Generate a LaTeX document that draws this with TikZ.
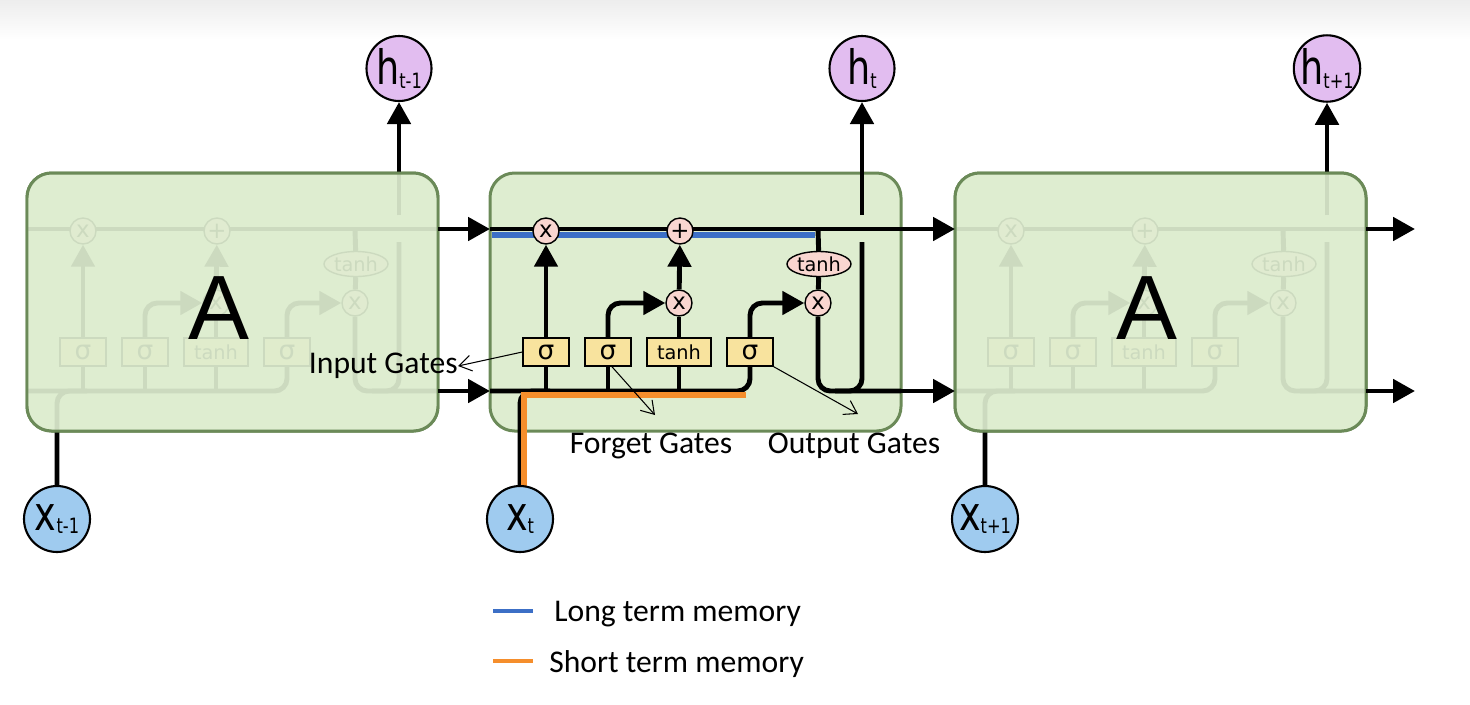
\documentclass[tikz,border=0pt]{standalone}
\usepackage{fontspec}
\usepackage{graphicx}
\setmainfont{Carlito}
\newfontfamily\dejavu{DejaVu Sans}
\newfontfamily\arialfont{Liberation Sans}
\usepackage{tikz}
\usetikzlibrary{arrows.meta,shapes.geometric}
\definecolor{cellgreen}{HTML}{DEEDD0}
\definecolor{cellborder}{HTML}{6B8A58}
\definecolor{oppink}{HTML}{F9D6D0}
\definecolor{gateyellow}{HTML}{F8E39E}
\definecolor{hpurple}{HTML}{E2BDF0}
\definecolor{xblue}{HTML}{9FCBEF}
\definecolor{longblue}{HTML}{3C6FC6}
\definecolor{shortorange}{HTML}{F58E2C}
\pgfdeclarelayer{bg}
\pgfdeclarelayer{lines}
\pgfdeclarelayer{fade}
\pgfdeclarelayer{top}
\pgfsetlayers{bg,lines,main,fade,top}
\newcommand\cirlab[2]{{\dejavu\scalebox{0.77}[1]{\fontsize{27}{27}\selectfont #1\raisebox{-2pt}{\fontsize{12}{12}\selectfont #2}}}}

\begin{document}
\begin{tikzpicture}[x=0.02cm, y=-0.02cm,
    cellbox/.style={draw=cellborder, line width=1.7pt, rounded corners=14pt},
    flow/.style={line width=2.8pt, black},
    arr/.style={-{Triangle[length=0.44cm,width=0.46cm]}},
    opnode/.style={circle, draw, line width=0.8pt, fill=oppink, minimum size=0.52cm, inner sep=0pt, font=\dejavu\fontsize{13}{13}\selectfont},
    tanhnode/.style={ellipse, draw, line width=0.8pt, fill=oppink, minimum width=1.28cm, minimum height=0.5cm, inner sep=0pt, font=\dejavu\fontsize{11}{11}\selectfont},
    gatebox/.style={draw, line width=0.8pt, fill=gateyellow, minimum width=0.92cm, minimum height=0.56cm, inner sep=0pt, font=\dejavu\fontsize{15}{15}\selectfont},
    hcirc/.style={circle, draw, line width=1.2pt, fill=hpurple, minimum size=1.3cm, inner sep=0pt},
    xcirc/.style={circle, draw, line width=1.2pt, fill=xblue, minimum size=1.32cm, inner sep=0pt},
    lbl/.style={font=\fontsize{18}{20}\selectfont, inner sep=0pt},
    pointer/.style={line width=0.6pt, -{Straight Barb[length=7pt,width=9pt]}}]
    \useasboundingbox (0,0) rectangle (1470,704);
    % faint strip at the top
    \shade[top color=black!7, bottom color=white] (0,0) rectangle (1470,40);

    % the three LSTM cells
    \foreach \cx/\nm/\sub in {27/L/t-1,490/M/t,955/R/t+1}{
      \begin{scope}[shift={(\cx,0)}]
        \begin{pgfonlayer}{bg}
          \filldraw[cellbox, fill=cellgreen] (0,173) rectangle (411,431);
        \end{pgfonlayer}
        % pointwise operations and gates
        \node[opnode] (\nm-fx) at (56,231) {x};
        \node[opnode] (\nm-pl) at (190,231) {+};
        \node[opnode] (\nm-ix) at (189,303) {x};
        \node[opnode] (\nm-ox) at (328,303) {x};
        \node[tanhnode] (\nm-th) at (329,264) {tanh};
        \node[gatebox] (\nm-fs) at (56,352) {σ};
        \node[gatebox] (\nm-is) at (118,352) {σ};
        \node[gatebox, minimum width=1.28cm, font=\dejavu\fontsize{11}{11}\selectfont] (\nm-tb) at (189,352) {tanh};
        \node[gatebox] (\nm-os) at (260,352) {σ};
        % output and input
        \node[hcirc] (\nm-h) at (372,68.5) {\cirlab{h}{\sub}};
        \node[xcirc] (\nm-x) at (30,519) {\cirlab{x}{\sub}};
        \coordinate (\nm-ci) at (0,229);
        \coordinate (\nm-co) at (411,229);
        \coordinate (\nm-hi) at (0,391);
        \coordinate (\nm-ho) at (411,391);
        \coordinate (\nm-br) at (328,229);
        \coordinate (\nm-hj) at (372,242);
        \coordinate (\nm-hk) at (372,215);
        \begin{pgfonlayer}{lines}
          % cell state and hidden state
          \draw[flow] (\nm-ci) -- (\nm-co);
          \draw[flow, rounded corners=7pt] (\nm-hi) -| (\nm-os);
          \draw[flow, rounded corners=7pt] (\nm-x) |- (60,391);
          \draw[flow] (\nm-fs) -- (\nm-fs |- \nm-hi);
          \draw[flow] (\nm-is) -- (\nm-is |- \nm-hi);
          \draw[flow] (\nm-tb) -- (\nm-tb |- \nm-hi);
          % gates
          \draw[flow, arr] (\nm-fs) -- (\nm-fx);
          \draw[flow, arr, rounded corners=7pt] (\nm-is) |- (\nm-ix);
          \draw[flow] (\nm-tb) -- (\nm-ix);
          \draw[flow, arr] (\nm-ix) -- (\nm-pl);
          \draw[flow, arr, rounded corners=7pt] (\nm-os) |- (\nm-ox);
          % output branch
          \draw[flow] (\nm-br) -- (\nm-th);
          \draw[flow] (\nm-th) -- (\nm-ox);
          \draw[flow, rounded corners=7pt] (\nm-ox) |- (\nm-ho);
          \draw[flow, rounded corners=7pt] (345,391) -| (\nm-hj);
          \draw[flow, arr] (\nm-hk) -- (\nm-h);
        \end{pgfonlayer}
      \end{scope}
    }

    % long and short term memory in the middle cell
    \begin{pgfonlayer}{lines}
      \draw[longblue, line width=3.2pt] (492,235) -- (815,235);
      \draw[shortorange, line width=3pt] (524,487) -- (524,395) -- (746,395);
    \end{pgfonlayer}

    % faded cells
    \begin{pgfonlayer}{fade}
      \foreach \cx/\nm in {27/L,955/R}{
        \filldraw[cellbox, fill=cellgreen, fill opacity=0.92] (\cx,173) rectangle ++(411,258);
        \node[font=\arialfont\fontsize{52}{52}\selectfont] (\nm-A) at (\cx+192,308) {A};
      }
    \end{pgfonlayer}

    \begin{pgfonlayer}{top}
      % links between cells
      \coordinate (out-c) at (1415,229);
      \coordinate (out-h) at (1415,391);
      \draw[flow, arr] (L-co) -- (M-ci);
      \draw[flow, arr] (L-ho) -- (M-hi);
      \draw[flow, arr] (M-co) -- (R-ci);
      \draw[flow, arr] (M-ho) -- (R-hi);
      \draw[flow, arr] (R-co) -- (out-c);
      \draw[flow, arr] (R-ho) -- (out-h);

      % gate labels
      \node[lbl, anchor=east] (inlbl) at (458,366) {Input Gates};
      \draw[pointer] (M-fs.west) -- (inlbl.east);
      \node[lbl] (fglbl) at (651,446) {Forget Gates};
      \coordinate (fg-tip) at (655,415);
      \draw[pointer] (M-is.-75) -- (fg-tip);
      \node[lbl] (oglbl) at (854,446) {Output Gates};
      \coordinate (og-tip) at (858,414);
      \draw[pointer] (M-os.south east) -- (og-tip);

      % legend
      \draw[longblue, line width=2.5pt] (493,611) -- (533,611);
      \node[lbl, anchor=west] (lglong) at (554,614) {Long term memory};
      \draw[shortorange, line width=2.5pt] (493,661) -- (533,661);
      \node[lbl, anchor=west] (lgshort) at (549,664) {Short term memory};
    \end{pgfonlayer}
\end{tikzpicture}
\end{document}
